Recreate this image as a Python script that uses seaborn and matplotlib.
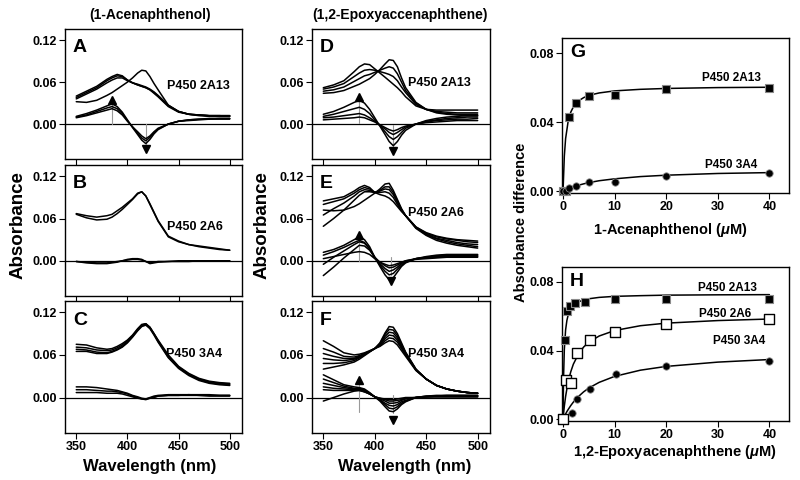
import numpy as np
import pandas as pd
import matplotlib
matplotlib.use("Agg")
import matplotlib.pyplot as plt
from matplotlib.ticker import FormatStrFormatter
import seaborn as sns

# ---------------- data ----------------
WL = [350, 360, 370, 380, 385, 390, 395, 400, 405, 410, 414, 418, 422, 426, 430, 440, 450, 460, 470, 480, 490, 500]

# Panel A: P450 2A13 + 1-acenaphthenol
A_abs = [
    [.040, .047, .054, .064, .068, .071, .069, .063, .059, .056, .054, .052, .049, .044, .039, .025, .017, .014, .013, .012, .012, .012],
    [.038, .045, .052, .062, .066, .069, .068, .063, .059, .056, .054, .052, .049, .045, .040, .026, .018, .014, .013, .012, .012, .011],
    [.036, .043, .050, .059, .063, .066, .066, .062, .059, .057, .055, .053, .050, .046, .041, .027, .018, .014, .012, .011, .011, .011],
    [.032, .031, .034, .041, .045, .050, .055, .060, .066, .073, .077, .076, .068, .058, .049, .027, .018, .014, .013, .012, .012, .012],
]
A_diff = [
    [.011, .015, .020, .026, .029, .025, .017, .006, -.005, -.015, -.023, -.028, -.022, -.014, -.008, .000, .004, .006, .007, .008, .008, .008],
    [.010, .013, .018, .023, .025, .022, .015, .005, -.004, -.013, -.020, -.024, -.019, -.012, -.007, .000, .004, .006, .007, .007, .008, .008],
    [.009, .012, .016, .020, .022, .019, .013, .004, -.004, -.011, -.017, -.021, -.017, -.011, -.006, .000, .004, .005, .006, .007, .007, .007],
]
# Panel B: P450 2A6 + 1-acenaphthenol
B_abs = [
    [.067, .064, .062, .064, .066, .071, .076, .082, .088, .096, .098, .092, .080, .068, .056, .034, .027, .023, .020, .018, .016, .015],
    [.066, .061, .058, .059, .062, .067, .073, .080, .087, .095, .098, .092, .081, .069, .057, .035, .028, .023, .021, .019, .017, .015],
]
B_diff = [
    [-.001, -.003, -.004, -.004, -.003, -.002, .000, .002, .003, .003, .002, -.001, -.004, -.003, -.002, -.001, -.001, -.001, .000, .000, .000, .000],
    [-.001, -.002, -.003, -.003, -.002, -.001, .000, .001, .002, .002, .001, -.001, -.003, -.002, -.001, -.001, .000, .000, .000, .000, .000, .000],
]
# Panel C: P450 3A4 + 1-acenaphthenol
C_abs = [
    [.075, .074, .070, .068, .069, .072, .076, .081, .088, .097, .103, .104, .099, .090, .081, .060, .044, .034, .027, .023, .021, .020],
    [.071, .070, .067, .066, .067, .070, .074, .080, .087, .096, .102, .104, .099, .090, .080, .058, .043, .033, .026, .022, .020, .019],
    [.068, .067, .064, .063, .065, .068, .072, .078, .086, .095, .101, .103, .098, .089, .079, .057, .042, .032, .025, .021, .019, .018],
    [.065, .065, .062, .062, .064, .067, .071, .077, .085, .094, .100, .102, .097, .088, .078, .056, .041, .031, .024, .020, .018, .017],
]
C_diff = [
    [.015, .015, .014, .012, .011, .010, .008, .006, .003, .001, -.001, -.002, .000, .002, .003, .004, .004, .004, .004, .004, .003, .003],
    [.011, .011, .010, .009, .009, .008, .007, .005, .002, .000, -.002, -.002, -.001, .001, .002, .003, .003, .004, .003, .003, .003, .003],
    [.007, .007, .007, .006, .006, .006, .005, .003, .001, -.001, -.002, -.003, -.001, .000, .002, .003, .003, .003, .003, .002, .002, .002],
]
# Panel D: P450 2A13 + 1,2-epoxyacenaphthene
D_abs = [
    [.052, .056, .062, .075, .082, .086, .085, .079, .073, .067, .062, .057, .052, .046, .039, .026, .021, .020, .020, .020, .020, .020],
    [.050, .053, .058, .068, .073, .077, .078, .077, .075, .073, .071, .068, .062, .053, .045, .028, .021, .018, .017, .016, .016, .016],
    [.047, .049, .053, .061, .065, .069, .071, .074, .077, .080, .082, .080, .072, .060, .048, .030, .021, .017, .015, .014, .014, .014],
    [.044, .045, .048, .054, .057, .061, .065, .071, .078, .086, .092, .091, .082, .066, .052, .031, .021, .016, .014, .013, .012, .012],
]
D_diff = [
    [.014, .018, .024, .031, .034, .030, .021, .009, -.003, -.015, -.025, -.031, -.025, -.016, -.009, .000, .005, .008, .010, .011, .012, .012],
    [.011, .014, .018, .022, .024, .021, .015, .006, -.002, -.011, -.018, -.022, -.018, -.012, -.006, .000, .004, .006, .008, .009, .010, .010],
    [.009, .010, .012, .014, .015, .013, .009, .004, -.002, -.007, -.012, -.015, -.012, -.008, -.004, .000, .003, .005, .006, .007, .007, .008],
    [.006, .007, .008, .009, .010, .009, .006, .003, -.001, -.005, -.008, -.010, -.008, -.005, -.003, .000, .002, .003, .004, .005, .005, .005],
]
# Panel E: P450 2A6 + 1,2-epoxyacenaphthene
E_abs = [
    [.085, .088, .091, .099, .104, .107, .104, .097, .094, .092, .089, .084, .077, .070, .064, .048, .040, .035, .032, .030, .029, .028],
    [.080, .084, .088, .096, .101, .104, .102, .097, .097, .098, .096, .090, .080, .071, .064, .048, .039, .034, .031, .029, .027, .026],
    [.065, .074, .082, .092, .098, .101, .100, .097, .099, .102, .101, .094, .083, .072, .064, .047, .038, .032, .029, .026, .024, .023],
    [.049, .060, .072, .086, .093, .098, .098, .097, .100, .105, .105, .097, .085, .073, .064, .047, .037, .031, .027, .024, .022, .020],
    [.072, .071, .072, .077, .081, .086, .091, .096, .102, .109, .110, .100, .087, .074, .064, .046, .036, .029, .025, .022, .020, .018],
]
E_diff = [
    [.012, .016, .022, .030, .034, .030, .020, .005, -.008, -.020, -.027, -.024, -.016, -.008, -.003, .003, .006, .008, .009, .009, .009, .009],
    [.008, .013, .019, .026, .029, .026, .017, .004, -.006, -.015, -.020, -.018, -.012, -.006, -.002, .003, .005, .007, .008, .008, .008, .008],
    [-.005, .005, .014, .023, .027, .025, .017, .005, -.004, -.011, -.015, -.013, -.009, -.004, -.001, .003, .005, .006, .007, .007, .007, .007],
    [-.021, -.009, .004, .016, .022, .021, .015, .005, -.002, -.007, -.010, -.009, -.006, -.003, .000, .003, .004, .005, .006, .006, .006, .006],
    [.003, .006, .009, .012, .013, .012, .009, .003, -.002, -.005, -.007, -.006, -.004, -.002, .000, .002, .003, .004, .005, .005, .005, .005],
]
# Panel F: P450 3A4 + 1,2-epoxyacenaphthene
F_abs = [
    [.080, .072, .063, .060, .061, .063, .066, .069, .072, .077, .080, .079, .074, .066, .058, .038, .026, .017, .012, .009, .007, .006],
    [.069, .064, .058, .057, .059, .062, .065, .069, .073, .080, .084, .083, .078, .069, .060, .039, .026, .017, .012, .009, .007, .006],
    [.062, .058, .055, .055, .058, .061, .065, .069, .074, .083, .088, .087, .081, .071, .061, .039, .026, .017, .012, .009, .007, .006],
    [.055, .053, .052, .054, .057, .061, .065, .069, .075, .086, .092, .091, .084, .073, .062, .039, .026, .017, .012, .009, .007, .006],
    [.048, .048, .049, .052, .056, .060, .065, .069, .076, .089, .096, .095, .087, .075, .063, .040, .026, .017, .012, .009, .007, .006],
    [.040, .043, .046, .050, .054, .059, .064, .069, .077, .091, .100, .099, .090, .077, .064, .040, .026, .017, .012, .009, .007, .006],
]
F_diff = [
    [.032, .025, .018, .015, .014, .012, .007, .001, -.005, -.013, -.019, -.020, -.016, -.010, -.006, .000, .002, .003, .003, .003, .003, .003],
    [.026, .021, .016, .013, .013, .011, .006, .001, -.004, -.010, -.015, -.016, -.013, -.008, -.005, .000, .002, .002, .003, .003, .003, .003],
    [.020, .017, .014, .012, .012, .010, .006, .001, -.003, -.008, -.011, -.012, -.010, -.006, -.004, .000, .001, .002, .002, .002, .002, .002],
    [.015, .013, .012, .011, .011, .009, .005, .001, -.002, -.005, -.008, -.008, -.007, -.004, -.002, .000, .001, .002, .002, .002, .002, .002],
    [.011, .010, .010, .010, .010, .008, .005, .001, -.001, -.003, -.005, -.005, -.004, -.003, -.001, .000, .001, .001, .001, .001, .001, .001],
    [-.005, .000, .005, .009, .010, .008, .005, .001, -.001, -.002, -.003, -.003, -.002, -.001, .000, .000, .001, .001, .001, .001, .001, .001],
]

# peak / trough markers (wavelength, line low, line high, arrow y, arrow direction)
A_marks = [(385, 0.000, 0.029, 0.035, "^"), (418, -0.028, 0.000, -0.035, "v")]
D_marks = [(385, 0.002, 0.034, 0.039, "^"), (418, -0.031, -0.002, -0.039, "v")]
E_marks = [(385, 0.000, 0.034, 0.037, "^"), (416, -0.020, 0.005, -0.029, "v")]
F_marks = [(385, -0.020, 0.022, 0.024, "^"), (418, -0.022, 0.004, -0.031, "v")]

# Panel G: 1-acenaphthenol titrations
G_conc = [0, 0.5, 1.25, 2.5, 5, 10, 20, 40]
G_2A13 = [0.000, 0.000, 0.043, 0.051, 0.055, 0.056, 0.059, 0.060]
G_3A4 = [0.000, 0.000, 0.002, 0.0033, 0.0054, 0.0054, 0.0087, 0.0108]
G_fit_x = [0, 0.25, 0.5, 1, 1.5, 2, 3, 4, 5, 7, 10, 15, 20, 30, 40]
G_fit_2A13 = [0, 0.0203, 0.0305, 0.0407, 0.0458, 0.0488, 0.0523, 0.0542, 0.0555, 0.0569, 0.0581, 0.0590, 0.0595, 0.0600, 0.0602]
G_fit_3A4 = [0, 0.0004, 0.0007, 0.0014, 0.0020, 0.0026, 0.0035, 0.0043, 0.0050, 0.0061, 0.0072, 0.0085, 0.0093, 0.0103, 0.0108]

# Panel H: 1,2-epoxyacenaphthene titrations
H_conc_2A13 = [0, 0.4, 0.7, 1.3, 2.3, 4.3, 10, 20, 40]
H_2A13 = [0.000, 0.046, 0.063, 0.066, 0.0677, 0.0683, 0.0698, 0.0698, 0.070]
H_conc = [0, 0.5, 1.5, 2.7, 5.2, 10, 20, 40]
H_2A6 = [0.000, 0.0227, 0.0210, 0.0385, 0.046, 0.0506, 0.0554, 0.0583]
H_conc_3A4 = [0, 1.7, 2.8, 5.2, 10.2, 20, 40]
H_3A4 = [0.000, 0.0038, 0.0121, 0.0179, 0.0262, 0.031, 0.0342]
H_fit_x = [0, 0.1, 0.25, 0.5, 0.75, 1, 1.5, 2, 3, 4, 5, 7, 10, 15, 20, 30, 40]
H_fit_2A13 = [0, 0.0243, 0.0406, 0.0521, 0.0576, 0.0608, 0.0644, 0.0664, 0.0684, 0.0695, 0.0702, 0.0710, 0.0716, 0.0720, 0.0723, 0.0725, 0.0726]
H_fit_2A6 = [0, 0.0032, 0.0076, 0.0133, 0.0178, 0.0218, 0.0277, 0.0321, 0.0381, 0.0421, 0.0449, 0.0485, 0.0517, 0.0545, 0.0560, 0.0575, 0.0584]
H_fit_3A4 = [0, 0.0006, 0.0016, 0.0031, 0.0045, 0.0057, 0.0080, 0.0100, 0.0133, 0.0160, 0.0182, 0.0215, 0.0250, 0.0286, 0.0308, 0.0333, 0.0348]

# ---------------- style ----------------
sns.set_style("ticks")
plt.rcParams["font.family"] = ["Liberation Sans", "DejaVu Sans"]
plt.rcParams["font.weight"] = "bold"
plt.rcParams["axes.labelweight"] = "bold"
plt.rcParams["text.color"] = "black"
plt.rcParams["axes.labelcolor"] = "black"
plt.rcParams["xtick.color"] = "black"
plt.rcParams["ytick.color"] = "black"
plt.rcParams["axes.edgecolor"] = "black"
plt.rcParams["mathtext.fontset"] = "custom"
plt.rcParams["mathtext.rm"] = "Liberation Sans:bold"
plt.rcParams["mathtext.it"] = "Liberation Sans:italic:bold"
plt.rcParams["mathtext.bf"] = "Liberation Sans:bold"

fig = plt.figure(figsize=(8, 4.8), dpi=100)
W, H = 800.0, 480.0


def box(l, t, r, b):
    return fig.add_axes([l / W, 1 - b / H, (r - l) / W, (b - t) / H])


def style_axes(ax):
    for s in ax.spines.values():
        s.set_visible(True)
        s.set_color("black")
        s.set_linewidth(1.0)
    ax.tick_params(direction="out", length=4, width=0.8, labelsize=9, pad=2,
                   colors="black", labelcolor="black")
    for lab in ax.get_xticklabels() + ax.get_yticklabels():
        lab.set_fontweight("bold")
        lab.set_color("black")
    ax.set_xlabel("")
    ax.set_ylabel("")


def spectra(ax, abs_sets, diff_sets, name, name_xy, letter, marks, show_x):
    rows = []
    for i, c in enumerate(abs_sets + diff_sets):
        rows.append(pd.DataFrame({"wl": WL, "A": c, "curve": i}))
    df = pd.concat(rows, ignore_index=True)
    ax.axhline(0, color="black", lw=0.9, zorder=1)
    for (w, lo, hi, ay, mk) in marks:
        ax.plot([w, w], [lo, hi], color="#9a9a9a", lw=0.8, zorder=2)
        ax.plot([w], [ay], marker=mk, color="black", ms=5.5, zorder=4)
    sns.lineplot(data=df, x="wl", y="A", units="curve", estimator=None,
                 color="black", lw=1.1, ax=ax, legend=False, zorder=3)
    ax.set_xlim(339, 512)
    ax.set_ylim(-0.05, 0.136)
    ax.set_xticks([350, 400, 450, 500])
    ax.set_yticks([0.0, 0.06, 0.12])
    ax.yaxis.set_major_formatter(FormatStrFormatter("%.2f"))
    style_axes(ax)
    if not show_x:
        ax.tick_params(labelbottom=False)
    ax.text(name_xy[0], name_xy[1], name, fontsize=9, fontweight="bold", ha="left", va="center",
            color="black")
    ax.text(0.045, 0.855, letter, transform=ax.transAxes, fontsize=14, fontweight="bold",
            ha="left", va="center", color="black")


axA = box(65, 29, 242, 159)
axB = box(65, 165, 242, 296)
axC = box(65, 301, 242, 433)
axD = box(312, 29, 490, 159)
axE = box(312, 165, 490, 296)
axF = box(312, 301, 490, 433)
axG = box(562, 38, 789, 193)
axH = box(562, 267, 789, 421)

spectra(axA, A_abs, A_diff, "P450 2A13", (439, 0.055), "A", A_marks, False)
spectra(axB, B_abs, B_diff, "P450 2A6", (439, 0.048), "B", [], False)
spectra(axC, C_abs, C_diff, "P450 3A4", (438, 0.062), "C", [], True)
spectra(axD, D_abs, D_diff, "P450 2A13", (432, 0.059), "D", D_marks, False)
spectra(axE, E_abs, E_diff, "P450 2A6", (432, 0.068), "E", E_marks, False)
spectra(axF, F_abs, F_diff, "P450 3A4", (432, 0.061), "F", F_marks, True)


def titration(ax, letter):
    ax.set_xlim(-0.2, 43.8)
    ax.set_ylim(-0.001, 0.0887)
    ax.set_xticks([0, 10, 20, 30, 40])
    ax.set_yticks([0.0, 0.04, 0.08])
    ax.yaxis.set_major_formatter(FormatStrFormatter("%.2f"))
    style_axes(ax)
    ax.text(0.035, 0.905, letter, transform=ax.transAxes, fontsize=14, fontweight="bold",
            ha="left", va="center", color="black")


# G
for fx, fy in [(G_fit_x, G_fit_2A13), (G_fit_x, G_fit_3A4)]:
    sns.lineplot(x=fx, y=fy, color="black", lw=1.1, ax=axG, estimator=None)
sns.scatterplot(x=G_conc, y=G_2A13, marker="s", s=26, color="black", edgecolor="#8a8a8a",
                linewidth=0.8, ax=axG, zorder=5, clip_on=False)
sns.scatterplot(x=G_conc, y=G_3A4, marker="o", s=28, color="black", edgecolor="#8a8a8a",
                linewidth=0.6, ax=axG, zorder=5, clip_on=False)
titration(axG, "G")
axG.text(32.7, 0.0655, "P450 2A13", fontsize=8.5, fontweight="bold", ha="center", va="center")
axG.text(32.5, 0.0152, "P450 3A4", fontsize=8.5, fontweight="bold", ha="center", va="center")

# H
for fx, fy in [(H_fit_x, H_fit_2A13), (H_fit_x, H_fit_2A6), (H_fit_x, H_fit_3A4)]:
    sns.lineplot(x=fx, y=fy, color="black", lw=1.1, ax=axH, estimator=None)
sns.scatterplot(x=H_conc_2A13, y=H_2A13, marker="s", s=26, color="black", edgecolor="#8a8a8a",
                linewidth=0.8, ax=axH, zorder=5, clip_on=False)
sns.scatterplot(x=H_conc, y=H_2A6, marker="s", s=45, color="white", edgecolor="black",
                linewidth=1.0, ax=axH, zorder=6, clip_on=False)
sns.scatterplot(x=H_conc_3A4, y=H_3A4, marker="o", s=28, color="black", edgecolor="#8a8a8a",
                linewidth=0.6, ax=axH, zorder=5, clip_on=False)
titration(axH, "H")
axH.text(31.9, 0.0765, "P450 2A13", fontsize=8.5, fontweight="bold", ha="center", va="center")
axH.text(31.5, 0.0614, "P450 2A6", fontsize=8.5, fontweight="bold", ha="center", va="center")
axH.text(34.2, 0.0458, "P450 3A4", fontsize=8.5, fontweight="bold", ha="center", va="center")

# figure-level labels
fig.text(150 / W, 1 - 15 / H, "(1-Acenaphthenol)", fontsize=10, fontweight="bold", ha="center", va="center")
fig.text(400 / W, 1 - 15 / H, "(1,2-Epoxyaccenaphthene)", fontsize=10, fontweight="bold", ha="center", va="center")
fig.text(18 / W, 1 - 225 / H, "Absorbance", fontsize=13.5, fontweight="bold", rotation=90, ha="center", va="center")
fig.text(262 / W, 1 - 225 / H, "Absorbance", fontsize=13.5, fontweight="bold", rotation=90, ha="center", va="center")
fig.text(521 / W, 1 - 222 / H, "Absorbance difference", fontsize=10.5, fontweight="bold", rotation=90, ha="center", va="center")
fig.text(150 / W, 1 - 467 / H, "Wavelength (nm)", fontsize=12, fontweight="bold", ha="center", va="center")
fig.text(405 / W, 1 - 467 / H, "Wavelength (nm)", fontsize=12, fontweight="bold", ha="center", va="center")
fig.text(670 / W, 1 - 230 / H, r"1-Acenaphthenol ($\mu$M)", fontsize=10.5, fontweight="bold", ha="center", va="center")
fig.text(675 / W, 1 - 452 / H, r"1,2-Epoxyacenaphthene ($\mu$M)", fontsize=10.5, fontweight="bold", ha="center", va="center")

fig.savefig("out.png", dpi=100)
